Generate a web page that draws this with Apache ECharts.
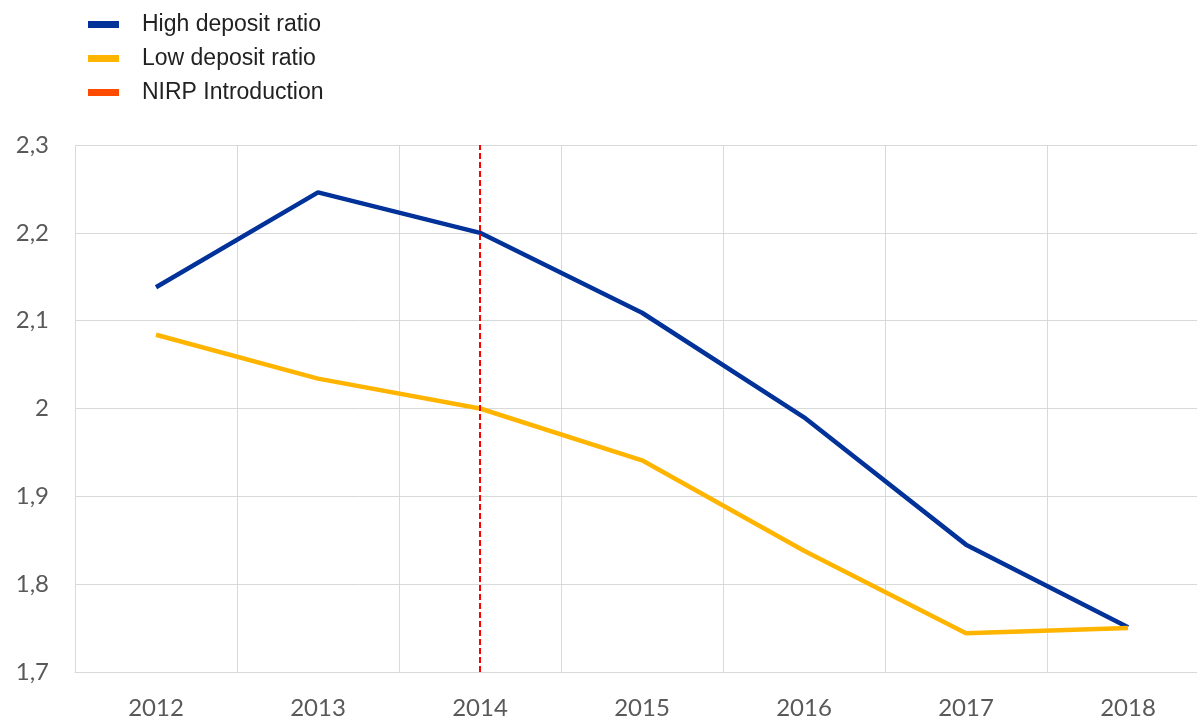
<!DOCTYPE html>
<html>
<head>
<meta charset="utf-8">
<script src="https://cdn.jsdelivr.net/npm/echarts@6/dist/echarts.min.js"></script>
<style>
  html, body { margin: 0; padding: 0; background: #fff; overflow: hidden; }
  /* plot runs past the right edge of the window, as in the source image */
  #chart { width: 1209px; height: 718px; }
</style>
</head>
<body>
<div id="chart"></div>
<script>
const years = ['2012', '2013', '2014', '2015', '2016', '2017', '2018']
const highDeposit = [2.138, 2.246, 2.2, 2.109, 1.99, 1.845, 1.751]
const lowDeposit = [2.084, 2.034, 2.0, 1.941, 1.838, 1.744, 1.75]
const nirpYear = '2014'

const chart = echarts.init(document.getElementById('chart'))
chart.setOption({
  animation: false,
  legend: {
    orient: 'vertical',
    left: 83,
    top: 8,
    icon: 'rect',
    itemWidth: 31,
    itemHeight: 7,
    itemGap: 11,
    textStyle: { fontFamily: 'Liberation Sans', fontSize: 23, color: '#222', padding: [0, 0, 0, 18] },
    data: ['High deposit ratio', 'Low deposit ratio', 'NIRP Introduction']
  },
  grid: { left: 75, top: 145, right: 0, bottom: 46, outerBoundsMode: 'none' },
  xAxis: {
    type: 'category',
    data: years,
    boundaryGap: true,
    axisLine: { lineStyle: { color: '#d9d9d9', width: 1 } },
    axisTick: { show: false },
    splitLine: { show: true, lineStyle: { color: '#d9d9d9', width: 1 } },
    axisLabel: { fontFamily: 'Lato', fontSize: 24, color: '#595959', margin: 24 }
  },
  yAxis: {
    type: 'value',
    min: 1.7,
    max: 2.3,
    interval: 0.1,
    axisLine: { show: false },
    axisTick: { show: false },
    splitLine: { lineStyle: { color: '#d9d9d9', width: 1 } },
    axisLabel: {
      fontFamily: 'Lato', fontSize: 24, color: '#595959', margin: 26,
      formatter: v => String(+v.toFixed(1)).replace('.', ',')
    }
  },
  series: [
    {
      name: 'High deposit ratio', type: 'line', data: highDeposit,
      symbol: 'none', color: '#003299',
      lineStyle: { width: 4.5, color: '#003299' }
    },
    {
      name: 'Low deposit ratio', type: 'line', data: lowDeposit,
      symbol: 'none', color: '#ffb400',
      lineStyle: { width: 4.5, color: '#ffb400' }
    },
    {
      name: 'NIRP Introduction', type: 'line', data: [],
      symbol: 'none', color: '#ff4b00',
      markLine: {
        silent: true,
        symbol: 'none',
        label: { show: false },
        lineStyle: { color: '#ff0000', width: 2, type: [6, 3] },
        data: [{ xAxis: nirpYear }]
      }
    }
  ]
})
</script>
</body>
</html>
